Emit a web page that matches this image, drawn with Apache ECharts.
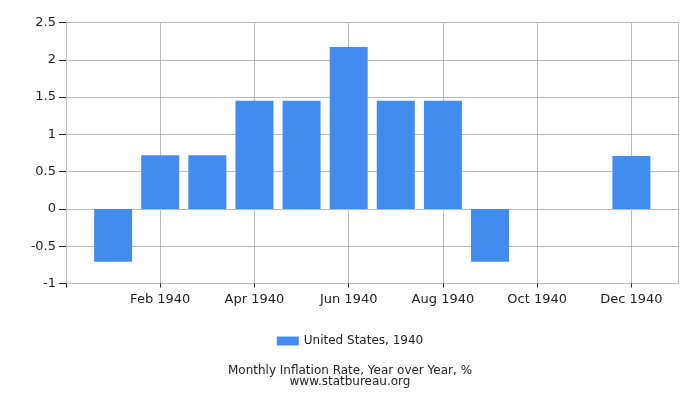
<!DOCTYPE html>
<html>
<head>
<meta charset="utf-8">
<script src="https://cdn.jsdelivr.net/npm/echarts@6/dist/echarts.min.js"></script>
<style>
    html, body {margin: 0; padding: 0; background: #fff;}
    #chart {width: 700px; height: 400px;}
</style>
</head>
<body>
<div id="chart"></div>
<script>
// padded with empty slots at both ends, like the original time axis
var months = ['', 'Jan 1940', 'Feb 1940', 'Mar 1940', 'Apr 1940', 'May 1940', 'Jun 1940',
    'Jul 1940', 'Aug 1940', 'Sep 1940', 'Oct 1940', 'Nov 1940', 'Dec 1940', ''];
var rates = [null, -0.71, 0.72, 0.72, 1.45, 1.45, 2.17, 1.45, 1.45, -0.71, 0, 0, 0.71, null];
var seriesName = 'United States, 1940';
var titleText = 'Monthly Inflation Rate, Year over Year, %';
var subText = 'www.statbureau.org';

var font = 'DejaVu Sans';
var chart = echarts.init(document.getElementById('chart'));

function everyOther(index) {
    return index % 2 === 0 && index < months.length - 1;
}

var option = {
    animation: false,
    textStyle: {fontFamily: font},
    title: {
        text: titleText,
        subtext: subText,
        left: 'center',
        top: 365,
        itemGap: 0,
        padding: 0,
        textStyle: {fontFamily: font, fontSize: 12, fontWeight: 'normal', color: '#222', lineHeight: 12},
        subtextStyle: {fontFamily: font, fontSize: 12, color: '#222', lineHeight: 10}
    },
    legend: {
        data: [seriesName],
        left: 'center',
        top: 330,
        itemWidth: 22,
        itemHeight: 9,
        itemGap: 4,
        icon: 'rect',
        textStyle: {fontFamily: font, fontSize: 12, color: '#222'}
    },
    grid: {left: 66, right: 21.5, top: 22.5, bottom: 116.5},
    xAxis: {
        type: 'category',
        data: months,
        boundaryGap: false,
        axisLine: {onZero: false, lineStyle: {color: '#bbb'}},
        axisTick: {
            interval: everyOther,
            length: 4,
            lineStyle: {color: '#222'}
        },
        axisLabel: {
            interval: everyOther,
            margin: 10,
            fontFamily: font,
            fontSize: 13,
            color: '#222'
        },
        splitLine: {
            show: true,
            interval: function (index) {
                return index % 2 === 0 || index === months.length - 1;
            },
            lineStyle: {color: '#bbb'}
        }
    },
    yAxis: {
        type: 'value',
        min: -1,
        max: 2.5,
        interval: 0.5,
        axisLine: {show: true, lineStyle: {color: '#bbb'}},
        axisTick: {show: true, length: 7, lineStyle: {color: '#222'}},
        axisLabel: {margin: 10, fontFamily: font, fontSize: 13, color: '#222'},
        splitLine: {show: true, lineStyle: {color: '#bbb'}}
    },
    series: [{
        name: seriesName,
        type: 'bar',
        data: rates,
        barWidth: 38,
        itemStyle: {color: '#438CEF'}
    }]
};
chart.setOption(option);
</script>
</body>
</html>
